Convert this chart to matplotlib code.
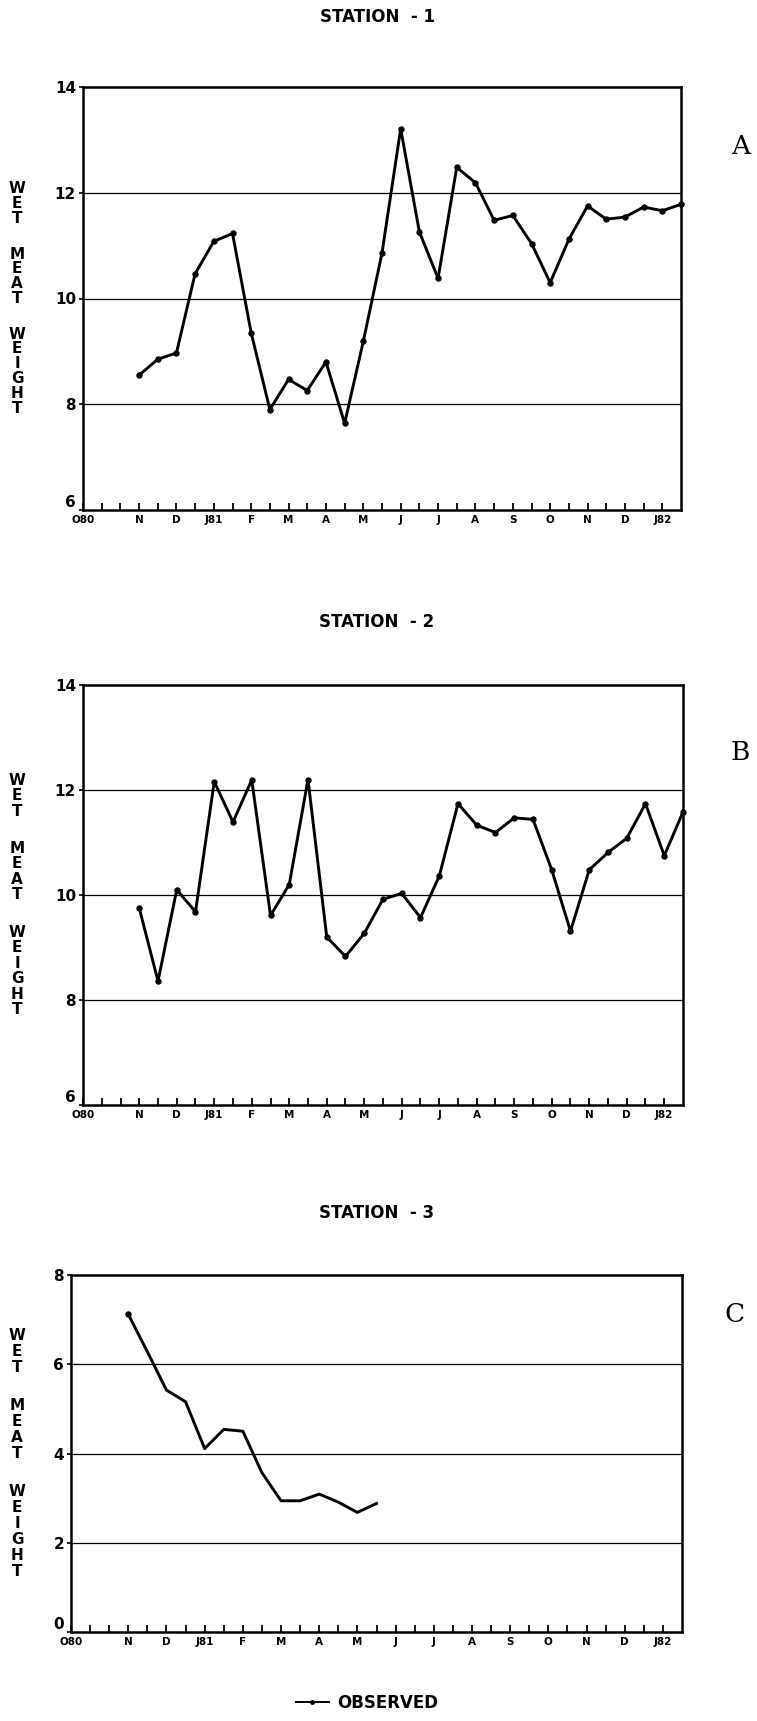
#!/usr/bin/python3

import matplotlib
matplotlib.use("Agg")
import matplotlib.pyplot as plt
from matplotlib.lines import Line2D

# half-month positions on the x axis, O80 = 0 ... J82 = 31
month_labels = ["O80", "N", "D", "J81", "F", "M", "A", "M",
                "J", "J", "A", "S", "O", "N", "D", "J82"]
label_pos = [0, 3, 5, 7, 9, 11, 13, 15, 17, 19, 21, 23, 25, 27, 29, 31]

x_station1 = list(range(3, 33))
wt_station1 = [8.55, 8.85, 8.97, 10.47, 11.08, 11.23, 9.35, 7.90, 8.47, 8.26,
               8.80, 7.64, 9.19, 10.86, 13.21, 11.26, 10.38, 12.48, 12.19, 11.48,
               11.57, 11.04, 10.30, 11.12, 11.75, 11.50, 11.54, 11.73, 11.66, 11.78]

x_station2 = list(range(3, 33))
wt_station2 = [9.75, 8.36, 10.10, 9.68, 12.16, 11.39, 12.19, 9.61, 10.20, 12.20,
               9.20, 8.83, 9.27, 9.92, 10.03, 9.57, 10.36, 11.74, 11.33, 11.19,
               11.47, 11.44, 10.48, 9.31, 10.48, 10.81, 11.08, 11.74, 10.75, 11.58]

x_station3 = list(range(3, 17))
wt_station3 = [7.12, 6.28, 5.42, 5.16, 4.11, 4.54, 4.50, 3.57, 2.94, 2.94,
               3.09, 2.91, 2.68, 2.88]

titles = ["STATION  - 1", "STATION  - 2", "STATION  - 3"]
panel_tags = ["A", "B", "C"]
yticks_ab = [6, 8, 10, 12, 14]
yticks_c = [0, 2, 4, 6, 8]
ylabel = "WET MEAT WEIGHT"

W, H = 757, 1721


def px_rect(left, top, right, bottom):
    """
    pixel box -> figure fraction rect
    """
    return [left / W, 1 - bottom / H, (right - left) / W, (bottom - top) / H]


def stack_label(fig, text, xc, yc, pitch):
    '''
    vertical letter-by-letter label
    '''
    slots = []
    pos = 0.0
    for ch in text:
        if ch == " ":
            pos += 1.4
            continue
        slots.append((ch, pos))
        pos += 1
    total = slots[-1][1]
    for ch, p in slots:
        y = yc + (p - total / 2) * pitch
        fig.text(xc / W, 1 - y / H, ch, ha="center", va="center",
                 fontweight="bold", fontsize=11)


def draw_panel(ax, x, y, yticks, markevery=None):
    ax.plot(x, y, color="black", lw=2.1, marker="o", ms=3.6,
            markevery=markevery, clip_on=False, zorder=3)
    ax.set_xlim(0, 32)
    ax.set_ylim(yticks[0], yticks[-1])
    for v in yticks[1:-1]:
        ax.axhline(v, color="black", lw=0.9, zorder=1)

    ax.set_yticks(yticks)
    ax.set_yticklabels([str(v) for v in yticks], fontweight="bold", fontsize=11)
    ax.tick_params(axis="y", direction="out", length=3, width=1.2, pad=2)
    # bottom value sits just above the axis so it clears the first month
    ax.get_yticklabels()[0].set_va("bottom")

    labels = [""] * 32
    for p, lab in zip(label_pos, month_labels):
        labels[p] = lab
    ax.set_xticks(range(0, 32))
    ax.set_xticklabels(labels, fontsize=7.5, fontweight="bold")
    ax.tick_params(axis="x", direction="in", length=5, width=1.3, pad=3.5)

    for s in ax.spines.values():
        s.set_linewidth(1.8)


def main():
    fig = plt.figure(figsize=(W / 100, H / 100), dpi=100)

    boxes = [(83, 87, 681, 510), (83, 685, 683, 1105), (71, 1275, 682, 1632)]
    title_y = [17.5, 622, 1213]
    tag_xy = [(741, 147), (740, 753), (735, 1315)]
    pitches = [14.8, 15.5, 16.0]
    series = [(x_station1, wt_station1, yticks_ab, None),
              (x_station2, wt_station2, yticks_ab, None),
              (x_station3, wt_station3, yticks_c, [0])]

    for i, (x, y, yt, mev) in enumerate(series):
        ax = fig.add_axes(px_rect(*boxes[i]))
        draw_panel(ax, x, y, yt, mev)

        fig.text(377 / W, 1 - title_y[i] / H, titles[i], ha="center",
                 va="center", fontweight="bold", fontsize=12)
        fig.text(tag_xy[i][0] / W, 1 - tag_xy[i][1] / H, panel_tags[i],
                 ha="center", va="center", family="DejaVu Serif", fontsize=19)
        yc = (boxes[i][1] + boxes[i][3]) / 2
        stack_label(fig, ylabel, 17, yc, pitches[i])

    handle = Line2D([], [], color="black", lw=1.4, marker="o", ms=2.5)
    fig.legend(handles=[handle], labels=["OBSERVED"], loc="center",
               bbox_to_anchor=(367 / W, 1 - 1703 / H), frameon=False,
               prop={"weight": "bold", "size": 12}, handlelength=2.0,
               handletextpad=0.5)

    fig.savefig("out.png", dpi=100)


if __name__ == "__main__":
    main()
